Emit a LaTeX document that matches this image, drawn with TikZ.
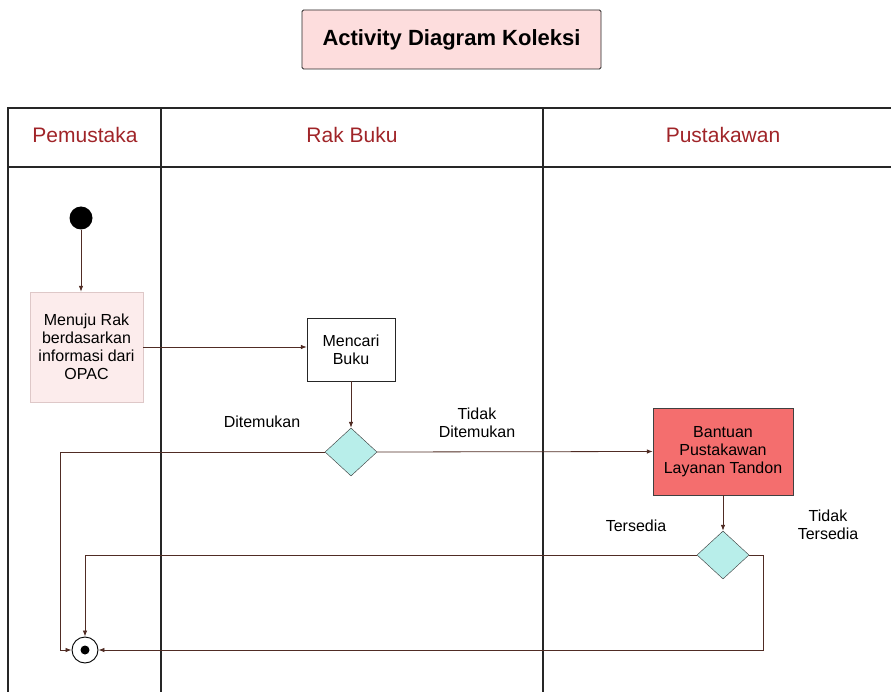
\documentclass[tikz,border=0pt]{standalone}
\usepackage{fontspec}
\setmainfont{Liberation Sans}
\usetikzlibrary{shapes.geometric,arrows.meta}
\definecolor{lanered}{RGB}{160,36,40}
\definecolor{titlepink}{RGB}{253,221,221}
\definecolor{softpink}{RGB}{252,236,236}
\definecolor{softedge}{RGB}{222,200,200}
\definecolor{tandonred}{RGB}{244,110,110}
\definecolor{decisioncyan}{RGB}{184,238,234}
\definecolor{flowbrown}{RGB}{80,44,36}

\begin{document}
\begin{tikzpicture}[x=1pt,y=-1pt,
	lane/.style={font=\fontsize{21}{24}\selectfont,text=lanered},
	act/.style={draw,align=center,font=\fontsize{16}{18}\selectfont,inner sep=0pt},
	decision/.style={diamond,draw=black!80,fill=decisioncyan,minimum width=52pt,minimum height=48pt,inner sep=0pt},
	guard/.style={align=center,font=\fontsize{16}{18}\selectfont},
	flow/.style={draw=flowbrown,line width=0.8pt,-{Latex[length=6pt,width=4.5pt]}}]
	\useasboundingbox (0,0) rectangle (891,692);
	% title
	\node[draw=black!85,fill=titlepink,rounded corners=1.5pt,line width=0.9pt,
	  minimum width=299pt,minimum height=59pt,font=\fontsize{22}{26}\selectfont\bfseries]
	  (title) at (451.5,39.5) {Activity Diagram Koleksi};
	% swimlanes
	\draw[line width=1.6pt,black!85] (8,692) -- (8,108) -- (895,108);
	\draw[line width=1.6pt,black!85] (8,167) -- (895,167);
	\draw[line width=1.2pt,black!85] (161,108) -- (161,692);
	\draw[line width=1.2pt,black!85] (543,108) -- (543,692);
	\node[lane] (pemustaka) at (85,135) {Pemustaka};
	\node[lane] (rakbuku) at (352,135) {Rak Buku};
	\node[lane] (pustakawan) at (723,135) {Pustakawan};
	% nodes
	\node[circle,fill=black,minimum size=23pt,inner sep=0pt] (start) at (81,218) {};
	\node[act,draw=softedge,fill=softpink,minimum width=113pt,minimum height=110pt]
	  (menuju) at (86.5,347) {Menuju Rak\\berdasarkan\\informasi dari\\OPAC};
	\node[act,draw=black!85,fill=white,minimum width=88pt,minimum height=63pt]
	  (mencari) at (351,349.5) {Mencari\\Buku};
	\node[decision] (cek) at (351,452) {};
	\node[act,draw=black!75,fill=tandonred,minimum width=140pt,minimum height=87pt]
	  (bantuan) at (723,451.5) {Bantuan\\Pustakawan\\Layanan Tandon};
	\node[decision] (tersedia) at (723,555) {};
	\node[circle,draw=black,line width=0.9pt,minimum size=26pt,inner sep=0pt] (akhir) at (85,650) {};
	\fill (akhir.center) circle (4.5pt);
	\coordinate (kiri) at (60,0);
	\coordinate (kanan) at (763,0);
	% flows
	\draw[flow] (start) -- (start |- menuju.north);
	\draw[flow] (menuju.east) -- (menuju.east -| mencari.west);
	\draw[flow] (mencari) -- (cek);
	\draw[flow] (cek.east) -- (bantuan.west);
	\draw[flow] (cek.west) -- (cek.west -| kiri) |- (akhir.west);
	\draw[flow] (bantuan) -- (tersedia);
	\draw[flow] (tersedia.west) -| (akhir.north);
	\draw[flow] (tersedia.east) -- (tersedia.east -| kanan) |- (akhir.east);
	% guards
	\node[guard] (ditemukan) at (262,422) {Ditemukan};
	\node[guard] (tidakditemukan) at (477,423) {Tidak\\Ditemukan};
	\node[guard] (ada) at (636,526) {Tersedia};
	\node[guard] (tidakada) at (828,525) {Tidak\\Tersedia};
\end{tikzpicture}
\end{document}
